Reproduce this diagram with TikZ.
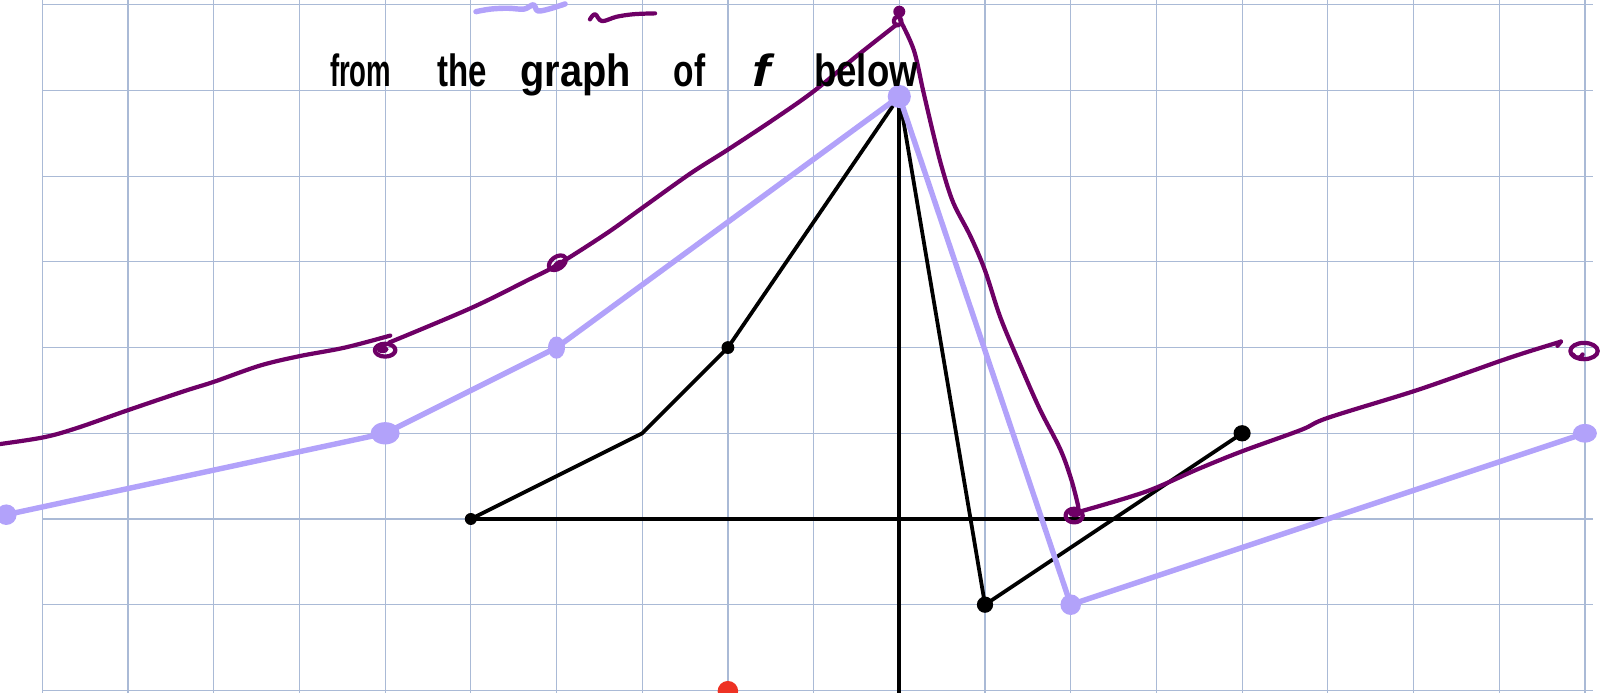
\documentclass[tikz,border=0pt]{standalone}
\usepackage{fontspec}
\setmainfont{Liberation Sans}
\usepackage{graphicx}
\definecolor{gridc}{RGB}{170,186,214}
\definecolor{lav}{RGB}{178,162,250}
\definecolor{pur}{RGB}{110,0,102}
\definecolor{reddot}{RGB}{238,50,36}
\begin{document}
\begin{tikzpicture}[x=1cm,y=1cm,
  gridline/.style={draw=gridc,line width=0.4pt},
  blk/.style={draw=black,line width=1.25pt,line cap=round,line join=round},
  lavline/.style={draw=lav,line width=1.8pt,line cap=round,line join=round},
  purline/.style={draw=pur,line width=1.4pt,line cap=round,line join=round},
  bdot/.style={fill=black},
  ldot/.style={fill=lav},
  hw/.style={font=\fontsize{15}{17}\selectfont\bfseries,inner sep=0pt,anchor=base west,text=black}]
\useasboundingbox (-10.494,-2.030) rectangle (8.223,6.056);
% grid
\foreach \x in {-10,...,8} \draw[gridline] (\x,-2.1) -- (\x,6.1);
\foreach \y in {-2,...,6} \draw[gridline] (-10,\y) -- (8.1,\y);
% coordinates of f
\coordinate (xl) at (-5,0);
\coordinate (xr) at (5,0);
\coordinate (yt) at (0,4.93);
\coordinate (yb) at (0,-2.1);
\coordinate (b1) at (-5,0);
\coordinate (b2) at (-3,1);
\coordinate (b3) at (-2,2);
\coordinate (b4) at (0,4.93);
\coordinate (b5) at (1,-1);
\coordinate (b6) at (4,1);
% axes
\draw[blk] (xl) -- (xr);
\draw[blk] (yt) -- (yb);
% black graph
\draw[blk] (b1) -- (b2) -- (b3) -- (b4) -- (b5) -- (b6);
\fill[bdot] (b1) circle (0.07);
\fill[bdot] (b3) circle (0.075);
\fill[bdot] (b5) circle (0.095);
\fill[bdot] (b6) ellipse (0.1 and 0.095);
% lavender graph
\coordinate (l1) at (-10.42,0.05);
\coordinate (l2) at (-6,1);
\coordinate (l3) at (-4,2);
\coordinate (l4) at (0,4.93);
\coordinate (l5) at (2,-1);
\coordinate (l6) at (8,1);
\draw[lavline] (l1) -- (l2) -- (l3) -- (l4) -- (l5) -- (l6);
\fill[ldot] (l1) circle (0.12);
\fill[ldot] (l2) ellipse (0.17 and 0.13);
\fill[ldot] (l3) ellipse (0.1 and 0.13);
\fill[ldot] (l4) circle (0.135);
\fill[ldot] (l5) circle (0.12);
\fill[ldot] (l6) ellipse (0.14 and 0.11);
% lavender squiggle
\draw[lavline] plot[smooth,tension=0.6] coordinates {(-4.94,5.92) (-4.77,5.95) (-4.57,5.96) (-4.38,5.95) (-4.27,6.0) (-4.22,5.93) (-4.09,5.95) (-3.90,6.01)};
% purple curve
\draw[purline] plot[smooth,tension=0.55] coordinates {(-10.6,0.86) (-10,0.95) (-9.6,1.06) (-9,1.27) (-8.35,1.49) (-8,1.6) (-7.46,1.79) (-7,1.9) (-6.47,2.0) (-5.94,2.14)};
\draw[purline] (-6.0,1.97) ellipse (0.12 and 0.075);
\fill[pur] (-6.03,1.98) ellipse (0.07 and 0.045);
\draw[purline] plot[smooth,tension=0.55] coordinates {(-5.95,2.06) (-5,2.46) (-4.33,2.79) (-4,2.96) (-3.42,3.33) (-3,3.63) (-2.44,4.03) (-2,4.31) (-1.47,4.66) (-1,4.99) (-0.5,5.40) (-0.03,5.77)};
\draw[purline,rotate around={35:(-3.99,2.99)}] (-3.99,2.99) ellipse (0.11 and 0.07);
\fill[pur,rotate around={35:(-3.99,2.99)}] (-3.99,2.97) ellipse (0.07 and 0.04);
\fill[pur] (0,5.92) circle (0.07);
\draw[purline] (-0.02,5.81) ellipse (0.045 and 0.05);
\draw[purline] plot[smooth,tension=0.55] coordinates {(0.01,5.82) (0.17,5.47) (0.28,4.99) (0.4,4.48) (0.5,4.09) (0.63,3.69) (0.83,3.30) (1.0,2.90) (1.18,2.35) (1.41,1.80) (1.64,1.28) (1.88,0.81) (2.01,0.45) (2.09,0.14)};
\draw[purline] (2.04,0.04) ellipse (0.1 and 0.08);
\fill[pur] (2.05,0.07) ellipse (0.08 and 0.05);
\draw[purline] plot[smooth,tension=0.55] coordinates {(2.12,0.09) (2.88,0.32) (3.48,0.58) (4,0.79) (4.69,1.04) (5,1.18) (6,1.49) (6.69,1.73) (7,1.84) (7.3,1.94) (7.72,2.07)};
\draw[purline] (7.72,2.07) -- (7.68,2.02);
\draw[purline] (7.99,1.96) ellipse (0.16 and 0.095);
\draw[purline] (7.86,1.92) arc (200:340:0.06 and 0.06);
% purple squiggle
\draw[purline] plot[smooth,tension=0.6] coordinates {(-3.61,5.83) (-3.55,5.89) (-3.47,5.81) (-3.30,5.86) (-3.1,5.89) (-2.85,5.90)};
% text
\node[hw] (w1) at (-6.65,5.05) {\scalebox{0.61}[1]{from}};
\node[hw] (w2) at (-5.40,5.05) {\scalebox{0.73}[1]{the}};
\node[hw] (w3) at (-4.43,5.05) {\scalebox{0.88}[1]{graph}};
\node[hw] (w4) at (-2.64,5.05) {\scalebox{0.74}[1]{of}};
\node[hw] (w5) at (-1.72,5.05) {\scalebox{1.2}[1]{\itshape f}};
\node[hw] (w6) at (-1.0,5.05) {\scalebox{0.81}[1]{below}};
% red dot
\fill[reddot] (-2,-2.01) circle (0.12);
\end{tikzpicture}
\end{document}
